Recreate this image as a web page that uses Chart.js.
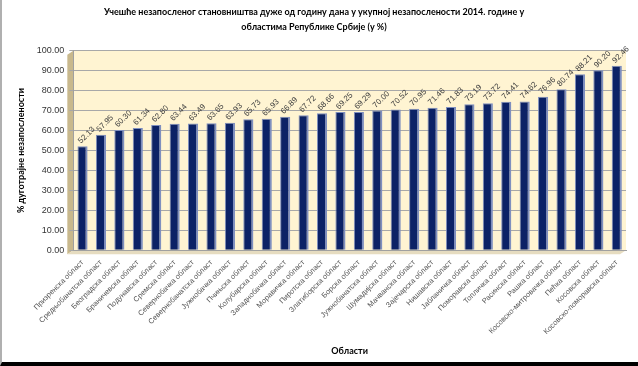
<!DOCTYPE html>
<html>
<head>
<meta charset="utf-8">
<script src="https://cdn.jsdelivr.net/npm/chart.js@4/dist/chart.umd.min.js"></script>
<style>
  html, body { margin: 0; padding: 0; background: #fff; }
  #wrap {
    position: relative; width: 638px; height: 366px; box-sizing: border-box;
    border-left: 2px solid #b0b0b0; border-bottom: 4px solid #000;
  }
  canvas { display: block; }
</style>
</head>
<body>
<div id="wrap"><canvas id="chart" width="636" height="362"></canvas></div>
<script>
const regions = [
  'Призренска област', 'Средњобанатска област', 'Београдска област', 'Браничевска област',
  'Подунавска област', 'Сремска област', 'Севернобачка област', 'Севернобанатска област',
  'Јужнобачка област', 'Пчињска област', 'Колубарска област', 'Западнобачка област',
  'Моравичка област', 'Пиротска област', 'Златиборска област', 'Борска област',
  'Јужнобанатска област', 'Шумадијска област', 'Мачванска област', 'Зајечарска област',
  'Нишавска област', 'Јабланичка област', 'Поморавска област', 'Топличка област',
  'Расинска област', 'Рашка област', 'Косовско-митровачка област', 'Пећка област',
  'Косовска област', 'Косовско-поморавска област'
];
const longTermShare = [
  52.13, 57.95, 60.30, 61.34, 62.80, 63.44, 63.49, 63.65, 63.93, 65.73,
  65.93, 66.89, 67.72, 68.66, 69.25, 69.29, 70.00, 70.52, 70.95, 71.46,
  71.83, 73.19, 73.72, 74.41, 74.62, 76.96, 80.74, 88.21, 90.20, 92.46
];
const titleLines = [
  'Учешће незапосленог становништва дуже од годину дана у укупној незапослености 2014. године у',
  'областима Републике Србије (у %)'
];

// cream plot area with a tan side wall
const wallBg = {
  id: 'wallBg',
  beforeDraw(chart) {
    const { ctx, chartArea: a } = chart;
    ctx.save();
    ctx.fillStyle = '#fff4d2';
    ctx.fillRect(a.left, a.top, a.right - a.left, a.bottom - a.top);
    ctx.fillStyle = '#c8b88c';
    ctx.beginPath();
    ctx.moveTo(a.left - 6, a.top + 4);
    ctx.lineTo(a.left, a.top);
    ctx.lineTo(a.left, a.bottom);
    ctx.lineTo(a.left - 6, a.bottom + 4);
    ctx.closePath();
    ctx.fill();
    ctx.fillStyle = '#e6dcc0';
    ctx.beginPath();
    ctx.moveTo(a.left - 6, a.bottom + 4);
    ctx.lineTo(a.left, a.bottom);
    ctx.lineTo(a.right, a.bottom);
    ctx.lineTo(a.right - 6, a.bottom + 4);
    ctx.closePath();
    ctx.fill();
    ctx.restore();
  }
};

// rotated value labels above each bar
const valueLabels = {
  id: 'valueLabels',
  afterDatasetsDraw(chart) {
    const { ctx } = chart;
    const meta = chart.getDatasetMeta(0);
    ctx.save();
    ctx.font = '8px "Liberation Sans", Arial, sans-serif';
    ctx.fillStyle = '#404040';
    ctx.textBaseline = 'middle';
    meta.data.forEach((bar, i) => {
      ctx.save();
      ctx.translate(bar.x - 3, bar.y - 4);
      ctx.rotate(-Math.PI / 4);
      ctx.fillText(longTermShare[i].toFixed(2), 0, 0);
      ctx.restore();
    });
    ctx.restore();
  }
};

new Chart(document.getElementById('chart'), {
  type: 'bar',
  data: {
    labels: regions,
    datasets: [{
      data: longTermShare,
      backgroundColor: '#0c2266',
      borderColor: '#7f8fbf',
      borderWidth: { left: 1, right: 2, top: 1, bottom: 0 },
      barPercentage: 0.55,
      categoryPercentage: 1.0
    }]
  },
  options: {
    responsive: false,
    animation: false,
    layout: { padding: { top: 2, right: 12, left: 0, bottom: 0 } },
    plugins: {
      legend: { display: false },
      tooltip: { enabled: false },
      title: {
        display: true,
        text: titleLines,
        color: '#000',
        font: { family: 'Lato, sans-serif', size: 9, weight: 'bold', lineHeight: 1.6 },
        padding: { top: 3, bottom: 17 }
      }
    },
    scales: {
      x: {
        grid: { display: false },
        border: { color: '#a0a0a0' },
        ticks: {
          color: '#555',
          font: { family: '"Liberation Sans", Arial, sans-serif', size: 7.5 },
          minRotation: 45, maxRotation: 45, autoSkip: false, padding: 0
        },
        title: {
          display: true, text: 'Области', color: '#000',
          font: { family: 'Lato, sans-serif', size: 9, weight: 'bold' },
          padding: { top: 9, bottom: 6 }
        }
      },
      y: {
        min: 0, max: 100,
        ticks: {
          stepSize: 10, color: '#333',
          font: { family: '"Liberation Sans", Arial, sans-serif', size: 9 },
          callback: v => v.toFixed(2), padding: 5
        },
        grid: { color: '#a8a8a8', drawTicks: true, tickLength: 4 },
        border: { color: '#a0a0a0' },
        title: {
          display: true, text: '% дуготрајне незапослености', color: '#000',
          font: { family: 'Lato, sans-serif', size: 9, weight: 'bold' },
          padding: { top: 14, bottom: 5 }
        }
      }
    }
  },
  plugins: [wallBg, valueLabels]
});
</script>
</body>
</html>
